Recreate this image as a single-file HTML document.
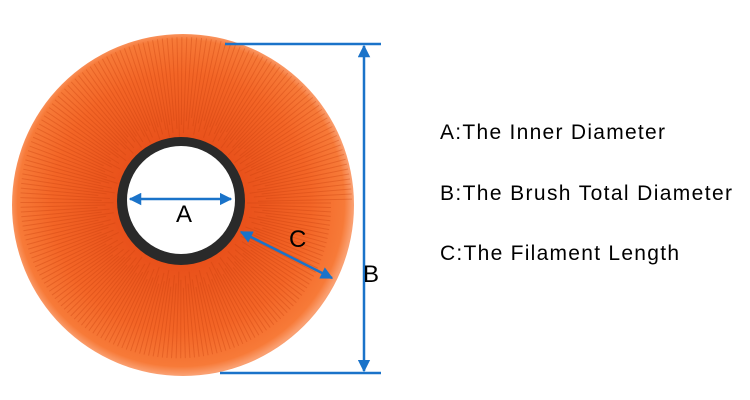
<!DOCTYPE html>
<html><head><style>
body{margin:0;width:750px;height:400px;background:#fff;overflow:hidden}
svg{position:absolute;left:0;top:0}
text{font-family:"Liberation Sans",sans-serif}
</style></head><body>
<svg width="750" height="400" viewBox="0 0 750 400">
<defs>
<radialGradient id="g" cx="181" cy="203" r="172" gradientUnits="userSpaceOnUse">
<stop offset="0.35" stop-color="#e8501a"/>
<stop offset="0.75" stop-color="#f36526"/>
<stop offset="0.95" stop-color="#f77a38"/>
<stop offset="1" stop-color="#fa9f70"/>
</radialGradient>
<marker id="ar" viewBox="0 0 10 10" refX="9" refY="5" markerWidth="5" markerHeight="5" orient="auto-start-reverse">
<path d="M0,0 L10,5 L0,10 z" fill="#1a73c9"/></marker>
</defs>
<circle cx="183" cy="205" r="171" fill="url(#g)"/>
<g stroke="#c9400e" stroke-width="1" opacity="0.35" id="st"></g>
<circle cx="181" cy="201" r="64" fill="#2a2a2a"/>
<circle cx="181" cy="200" r="54" fill="#fff"/>
<g stroke="#1a73c9" stroke-width="2.5" fill="none">
<line x1="225" y1="44" x2="381" y2="44"/>
<line x1="220" y1="373" x2="381" y2="373"/>
<line x1="364" y1="46" x2="364" y2="371" marker-start="url(#ar)" marker-end="url(#ar)"/>
<line x1="130" y1="199" x2="231" y2="199" marker-start="url(#ar)" marker-end="url(#ar)"/>
<line x1="241" y1="232" x2="332" y2="278" marker-start="url(#ar)" marker-end="url(#ar)"/>
</g>
<text x="176" y="222" font-size="24">A</text>
<text x="289" y="247" font-size="24">C</text>
<text x="363" y="282" font-size="24">B</text>
<text x="440" y="139" font-size="21" textLength="225">A:The Inner Diameter</text>
<text x="440" y="200" font-size="21" textLength="292">B:The Brush Total Diameter</text>
<text x="440" y="260" font-size="21" textLength="239">C:The Filament Length</text>
</svg>
<script>
var g=document.getElementById('st'),s='';
for(var i=0;i<360;i+=1.7){var a=i*Math.PI/180,r1=66+(i*7%20),r2=150+(i*13%22);
s+='<line x1="'+(181+r1*Math.cos(a))+'" y1="'+(203+r1*Math.sin(a))+'" x2="'+(181+r2*Math.cos(a))+'" y2="'+(203+r2*Math.sin(a))+'"/>';}
g.innerHTML=s;
</script>
</body></html>
